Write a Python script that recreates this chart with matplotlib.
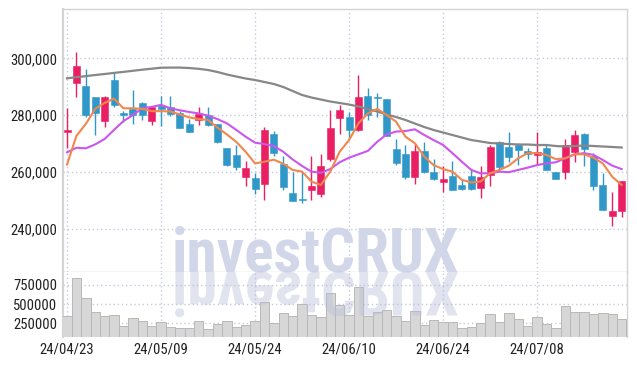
import numpy as np
import matplotlib
matplotlib.use("Agg")
import matplotlib.pyplot as plt
from matplotlib import font_manager as fm
from matplotlib.font_manager import FontProperties
from matplotlib.textpath import TextPath
from matplotlib.patches import PathPatch
from matplotlib.transforms import Affine2D
from matplotlib.ticker import FuncFormatter, FixedLocator

# ---------------- data ----------------
dates = ["24/04/23", "24/04/24", "24/04/25", "24/04/26", "24/04/29", "24/04/30", "24/05/02", "24/05/03",
         "24/05/07", "24/05/08", "24/05/09", "24/05/10", "24/05/13", "24/05/14", "24/05/16", "24/05/17",
         "24/05/20", "24/05/21", "24/05/22", "24/05/23", "24/05/24", "24/05/27", "24/05/28", "24/05/29",
         "24/05/30", "24/05/31", "24/06/03", "24/06/04", "24/06/05", "24/06/07", "24/06/10", "24/06/11",
         "24/06/12", "24/06/13", "24/06/14", "24/06/17", "24/06/18", "24/06/19", "24/06/20", "24/06/21",
         "24/06/24", "24/06/25", "24/06/26", "24/06/27", "24/06/28", "24/07/01", "24/07/02", "24/07/03",
         "24/07/04", "24/07/05", "24/07/08", "24/07/09", "24/07/10", "24/07/11", "24/07/12", "24/07/15",
         "24/07/16", "24/07/17", "24/07/18", "24/07/19"]
tick_labels = ["24/04/23", "24/05/09", "24/05/24", "24/06/10", "24/06/24", "24/07/08"]

opens = [273900, 291300, 290100, 286200, 278000, 292300, 280900, 282000, 284200, 277800,
         283100, 282700, 280700, 277000, 278400, 280100, 277000, 268400, 265900, 258200,
         257700, 255700, 273400, 262700, 252500, 250600, 253600, 252200, 264400, 279000,
         279500, 274600, 286900, 286100, 285500, 268100, 266300, 258200, 267200, 259900,
         256400, 258700, 255300, 258700, 254500, 258800, 270600, 268800, 269500, 267200,
         266100, 268400, 260100, 260000, 267100, 273300, 265600, 255300, 244400, 246200]
closes = [274800, 297300, 280100, 280700, 286200, 283400, 279900, 280200, 279900, 282800,
          282300, 280300, 275500, 274200, 280500, 276500, 270600, 262400, 261800, 261300,
          253900, 274800, 266800, 254700, 249800, 250000, 254900, 262000, 275500, 281800,
          274600, 286400, 280200, 285900, 272700, 263100, 258200, 267200, 260000, 257400,
          257600, 253600, 253900, 253900, 258300, 268800, 261800, 265300, 267800, 266200,
          267000, 260700, 257500, 269400, 273100, 268200, 255000, 246500, 246300, 256700]
highs = [282500, 302100, 296400, 286200, 286600, 294700, 281400, 288700, 284600, 282800,
         286900, 286900, 281600, 278500, 282800, 282800, 277000, 268400, 269400, 263800,
         259600, 275900, 274500, 265600, 260100, 260100, 265600, 266200, 281800, 283600,
         281000, 294100, 289700, 287900, 285500, 271500, 269500, 269700, 270700, 264600,
         262000, 263800, 257500, 261200, 262000, 269500, 270900, 274100, 270300, 268500,
         274100, 269600, 260100, 271500, 274700, 273600, 266800, 259600, 252900, 256700]
lows = [268500, 286400, 279200, 272900, 275900, 282800, 277400, 276900, 278400, 276500,
        276300, 279800, 275300, 274000, 276500, 276300, 270300, 262000, 260800, 255100,
        252300, 250100, 265600, 253700, 249600, 249200, 250100, 251300, 263800, 273300,
        271500, 274400, 278400, 279200, 272500, 262500, 257500, 255800, 259600, 257000,
        253000, 253500, 253700, 253700, 250700, 254900, 259900, 263400, 262600, 264600,
        262600, 260600, 257500, 257600, 263400, 262000, 253700, 246500, 241000, 244200]
volumes = [345000, 836800, 576000, 393400, 341300, 354300, 210900, 315200, 276100, 210900,
           263000, 197800, 184800, 184800, 276100, 171800, 237000, 276100, 197800, 223900,
           276100, 523800, 253900, 380400, 341300, 501700, 354300, 328200, 641200, 488600,
           358000, 719400, 345000, 401300, 423400, 345000, 280000, 410400, 227800, 293000,
           267000, 267000, 188700, 201700, 253900, 371300, 267000, 384300, 306100, 214800,
           332200, 240900, 188700, 475600, 397300, 397300, 371300, 384300, 371300, 306100]
ma5 = [262600, 272700, 276900, 282200, 284300, 285800, 282400, 282400, 282200, 281400,
       281400, 281300, 280200, 279200, 278600, 278300, 275600, 273200, 270600, 267100,
       263000, 263600, 264300, 262900, 260700, 260100, 256600, 255400, 260100, 267100,
       271200, 277100, 280600, 282200, 280000, 277700, 272400, 270100, 265400, 262400,
       261000, 260100, 257200, 256300, 256600, 259500, 260700, 262200, 264800, 266600,
       266600, 266000, 264500, 264800, 266200, 266200, 265000, 263000, 258300, 255400]
ma10 = [266900, 268500, 268300, 269700, 271600, 274800, 277900, 280000, 282400, 282900,
        283600, 282400, 281700, 281100, 280600, 279800, 278600, 277100, 274800, 272400,
        270300, 269800, 269100, 267100, 264400, 262100, 260100, 259700, 261000, 263400,
        265000, 266200, 267400, 270600, 273200, 274200, 274400, 275000, 273000, 271200,
        269500, 266600, 263600, 260700, 259500, 259500, 260100, 259900, 260700, 261500,
        262400, 263000, 263400, 264800, 266200, 266600, 266000, 264200, 262200, 261000]
ma60 = [292960, 293350, 293730, 294120, 294470, 294860, 295210, 295600, 295990, 296340,
        296690, 296730, 296730, 296580, 296300, 295880, 295180, 294300, 293590, 292890,
        292360, 291660, 290950, 289900, 288490, 287080, 286200, 285490, 284790, 284260,
        283730, 283030, 282150, 281270, 280210, 279330, 278280, 277040, 275810, 274750,
        273870, 272990, 272110, 271230, 270710, 270180, 270000, 269820, 269650, 269650,
        269470, 269470, 269120, 268950, 269120, 269300, 269120, 268950, 268770, 268590]
price_ticks = [240000, 260000, 280000, 300000]
volume_ticks = [250000, 500000, 750000]
watermark = "investCRUX"

# ---------------- style ----------------
RED = "#e91e63"
BLUE = "#3097c9"
GRID = "#c5c9dd"
W, H = 637, 366

names = {f.name for f in fm.fontManager.ttflist}
if "Liberation Sans Narrow" in names:
    lab_family, lab_size = "Liberation Sans Narrow", 11.2
elif "Roboto Condensed" in names:
    lab_family, lab_size = "Roboto Condensed", 10.6
elif "Roboto" in names:
    lab_family, lab_size = "Roboto", 9.6
else:
    lab_family, lab_size = "DejaVu Sans", 8.5
if "Roboto Condensed" in names:
    wm_family = "Roboto Condensed"
elif "Roboto" in names:
    wm_family = "Roboto"
else:
    wm_family = "Liberation Sans"

fig = plt.figure(figsize=(W / 100, H / 100), dpi=100)
ax = fig.add_axes([63 / W, 1 - 272 / H, 564 / W, 263 / H])
axv = fig.add_axes([63 / W, 1 - 337.3 / H, 564 / W, 65.3 / H], sharex=ax)

x = np.arange(len(dates))
o = np.array(opens); c = np.array(closes)
hi = np.array(highs); lo = np.array(lows)
cols = np.where(c >= o, RED, BLUE)

ax.vlines(x, lo, hi, colors=cols, lw=1.0, zorder=3)
ax.bar(x, np.maximum(np.abs(c - o), 350), bottom=np.minimum(o, c), width=0.75,
       color=cols, edgecolor=cols, lw=0.4, zorder=4)
ax.plot(x, ma60, color="#878787", lw=1.6, zorder=5)
ax.plot(x, ma10, color="#cc55ee", lw=1.5, zorder=6)
ax.plot(x, ma5, color="#f0874d", lw=1.5, zorder=7)

axv.bar(x, volumes, width=1.0, color="#d7d7d7", edgecolor="#b8b8b8", lw=0.7, zorder=3)

ax.set_xlim(-0.43, 59.57)
ax.set_ylim(224760, 317360)
axv.set_ylim(67000, 919000)

tick_pos = [dates.index(d) for d in tick_labels]
for a in (ax, axv):
    a.xaxis.set_major_locator(FixedLocator(tick_pos))
    a.grid(True, color=GRID, lw=1.0, linestyle=(0, (1, 2)), zorder=0)
    a.set_axisbelow(True)
    a.tick_params(length=0, colors="#222222", labelsize=lab_size)
    for s in a.spines.values():
        s.set_color("#d4d4d4")
        s.set_linewidth(1.0)
    a.spines["left"].set_linewidth(1.6)

ax.set_yticks(price_ticks)
ax.yaxis.set_major_formatter(FuncFormatter(lambda v, p: f"{int(v):,}"))
ax.tick_params(axis="x", labelbottom=False)
ax.tick_params(axis="y", pad=4.3)
axv.set_yticks(volume_ticks)
axv.yaxis.set_major_formatter(FuncFormatter(lambda v, p: f"{int(v)}"))
axv.set_xticklabels(tick_labels)
axv.tick_params(axis="y", pad=4.3)
axv.tick_params(axis="x", pad=4.0)
axv.spines["top"].set_visible(False)
axv.spines["bottom"].set_visible(False)
for lab in ax.get_yticklabels() + axv.get_yticklabels() + axv.get_xticklabels():
    lab.set_family([lab_family, "DejaVu Sans"])

# ---------------- watermark ----------------
fp = FontProperties(family=wm_family, weight="bold")
tp = TextPath((0, 0), watermark, size=1, prop=fp)
ext = tp.get_extents()
size_px = 283 / ext.width
x_left = 175 - ext.x0 * size_px
base = 272
fig.text(x_left / W, 1 - base / H, watermark, ha="left", va="baseline",
         fontproperties=FontProperties(family=wm_family, weight="bold", size=size_px * 0.72),
         color="#d2d6e9", zorder=1)
refl = PathPatch(tp, transform=Affine2D().scale(size_px, -size_px).translate(x_left, H - base),
                 facecolor="#b8bdd8", edgecolor="none", alpha=0.42, zorder=2)
fig.add_artist(refl)

fig.savefig("out.png", dpi=100)
